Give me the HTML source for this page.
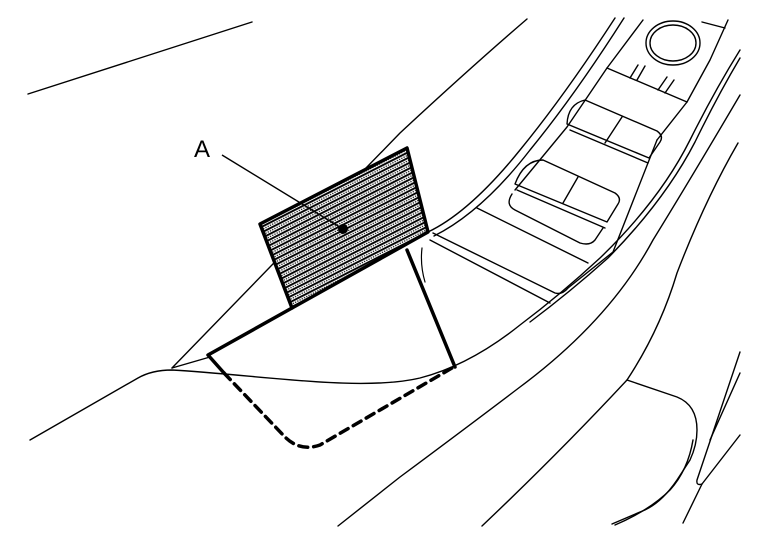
<!DOCTYPE html>
<html><head><meta charset="utf-8"><style>
html,body{margin:0;padding:0;background:#fff;}
svg{display:block;}
</style></head><body>
<svg width="768" height="544" viewBox="0 0 768 544" xmlns="http://www.w3.org/2000/svg">
<defs>
<pattern id="h" width="5" height="5" patternUnits="userSpaceOnUse" patternTransform="rotate(-27)">
<rect width="5" height="5" fill="#fff"/>
<rect y="0" width="5" height="1.9" fill="#000"/>
<circle cx="1.2" cy="3.5" r="0.7" fill="#000"/>
<circle cx="3.7" cy="3.5" r="0.7" fill="#000"/>
</pattern>
</defs>
<g fill="none" stroke="#000" stroke-width="1.4" stroke-linecap="round" stroke-linejoin="round">
<path d="M28,94 L252,22"/>
<path d="M172,368 L400,133 Q470,68 527,19"/>
<path d="M30,440 L138,378 Q152,370 172,370 C260,375 360,392 420,378 Q470,365 520,325 Q560,295 600,258 Q660,200 690,140 Q715,90 740,50"/>
<path d="M530,322 Q570,292 608,258 Q665,200 695,142 Q718,95 740,58"/>
<path d="M210,357 L172,368"/>
<path d="M338,526 L400,477 Q470,425 520,387 Q610,320 653,240 Q690,180 740,95"/>
<path d="M482,526 Q560,452 627,380 Q660,330 677,273 Q705,200 738,143"/>
<path d="M627,380 L677,397 Q697,405 697,430 Q697,445 690,460 L677,480 Q660,505 640,512 L612,524"/>
<path d="M693,440 Q688,470 670,490 Q650,510 615,525"/>
<path d="M740,352 L697,480 Q696,486 702,484 L740,435"/>
<path d="M702,484 L683,523"/>
<path d="M740,373 L710,440"/>
<path d="M615,18 Q565,95 520,150 Q470,212 428,232"/>
<path d="M624,18 Q575,95 530,150 Q482,212 434,236"/>
<path d="M433,233 L555,293 Q562,295 568,288 L613,252 L657,140"/>
<path d="M430,240 L550,303"/>
<path d="M477,208 L588,263"/>
<path d="M643,20 L607,68 L567,127 L515,190"/>
<path d="M657,140 L687,102 L710,60 L728,20"/>
<path d="M607,68 L687,102"/>
<path d="M702,22 L725,28"/>
<path d="M638,65 L630,78 M645,66 L637,80"/>
<path d="M667,77 L658,90 M674,80 L665,93"/>
<ellipse cx="673" cy="43" rx="27" ry="22"/>
<ellipse cx="673" cy="43" rx="23" ry="18"/>
<path d="M585,100 L657,131 Q664,136 660,142 L649,158 L567,124 Q568,104 585,100 Z"/>
<path d="M570,130 L648,163"/>
<path d="M622,117 L605,143"/>
<path d="M543,160 L615,193 Q622,198 618,204 L607,222 L515,184 Q524,160 543,160 Z"/>
<path d="M517,190 L605,228"/>
<path d="M578,177 L563,203"/>
<path d="M512,194 Q505,205 515,210 L580,243 Q590,246 595,240 L603,228"/>
<path d="M422,248 Q420,265 425,282" stroke-width="1.2"/>
</g>
<polygon points="260,224 407,148 428,232 292,308" fill="url(#h)" stroke="#000" stroke-width="3.5" stroke-linejoin="round"/>
<circle cx="343" cy="229" r="5" fill="#000"/>
<path d="M222,155 L343,229" stroke="#000" stroke-width="1.4" fill="none"/>
<text x="194" y="157" font-family="Liberation Sans, sans-serif" font-size="24" fill="#000">A</text>
<g fill="none" stroke="#000" stroke-width="3.5" stroke-linecap="round" stroke-linejoin="round">
<path d="M292,308 L208,355 L224,373"/>
<path d="M407,250 L455,367"/>
<path d="M224,373 L285,437 Q300,452 320,445 L452,368" stroke-dasharray="9,6"/>
</g>
</svg>
</body></html>
